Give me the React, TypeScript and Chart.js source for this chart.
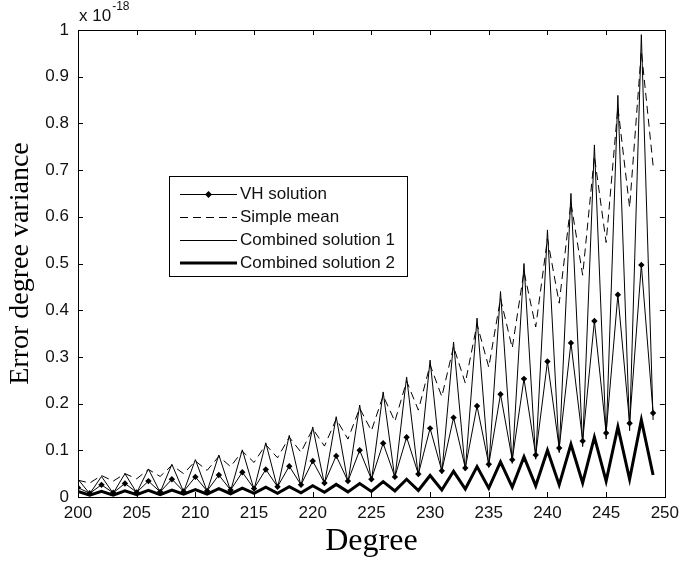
import React, { useEffect, useRef } from "react";
import { Chart, registerables } from "chart.js";

Chart.register(...registerables);

const degrees = [
  200, 201, 202, 203, 204, 205, 206, 207, 208, 209,
  210, 211, 212, 213, 214, 215, 216, 217, 218, 219,
  220, 221, 222, 223, 224, 225, 226, 227, 228, 229,
  230, 231, 232, 233, 234, 235, 236, 237, 238, 239,
  240, 241, 242, 243, 244, 245, 246, 247, 248, 249,
];

const vhSolution = [
  0.020, 0.008, 0.026, 0.009, 0.029, 0.010, 0.034, 0.011, 0.038, 0.012,
  0.043, 0.013, 0.047, 0.015, 0.053, 0.018, 0.059, 0.022, 0.066, 0.026,
  0.077, 0.030, 0.088, 0.034, 0.100, 0.038, 0.115, 0.043, 0.128, 0.049,
  0.147, 0.056, 0.170, 0.062, 0.195, 0.070, 0.220, 0.080, 0.253, 0.090,
  0.290, 0.105, 0.330, 0.120, 0.377, 0.137, 0.433, 0.158, 0.497, 0.180,
];

const simpleMean = [
  0.036, 0.030, 0.046, 0.034, 0.050, 0.039, 0.059, 0.044, 0.068, 0.050,
  0.077, 0.057, 0.087, 0.065, 0.098, 0.074, 0.112, 0.084, 0.128, 0.096,
  0.146, 0.109, 0.167, 0.124, 0.190, 0.142, 0.217, 0.162, 0.248, 0.186,
  0.283, 0.215, 0.322, 0.244, 0.370, 0.278, 0.425, 0.319, 0.483, 0.364,
  0.553, 0.415, 0.630, 0.475, 0.730, 0.545, 0.835, 0.620, 0.955, 0.710,
];

const combined1 = [
  0.038, 0.007, 0.044, 0.008, 0.050, 0.009, 0.060, 0.010, 0.070, 0.011,
  0.080, 0.012, 0.090, 0.013, 0.101, 0.016, 0.116, 0.019, 0.132, 0.023,
  0.150, 0.027, 0.172, 0.030, 0.197, 0.034, 0.225, 0.039, 0.257, 0.044,
  0.293, 0.050, 0.332, 0.056, 0.383, 0.063, 0.440, 0.072, 0.500, 0.081,
  0.572, 0.095, 0.650, 0.108, 0.754, 0.124, 0.860, 0.142, 0.990, 0.165,
];

const combined2 = [
  0.012, 0.004, 0.012, 0.004, 0.013, 0.005, 0.014, 0.005, 0.015, 0.006,
  0.016, 0.006, 0.018, 0.007, 0.019, 0.008, 0.021, 0.008, 0.022, 0.009,
  0.024, 0.010, 0.027, 0.011, 0.029, 0.012, 0.033, 0.013, 0.038, 0.014,
  0.046, 0.015, 0.055, 0.017, 0.065, 0.019, 0.075, 0.021, 0.086, 0.024,
  0.100, 0.026, 0.113, 0.030, 0.128, 0.034, 0.150, 0.038, 0.165, 0.047,
];

const seriesNames = ["VH solution", "Simple mean", "Combined solution 1", "Combined solution 2"];
const xTickValues = [200, 205, 210, 215, 220, 225, 230, 235, 240, 245, 250];
const yTickValues = [0, 0.1, 0.2, 0.3, 0.4, 0.5, 0.6, 0.7, 0.8, 0.9, 1];
const exponentBase = "x 10";
const exponentPower = "-18";
const xTitle = "Degree";
const yTitle = "Error degree variance";

const SANS = "'Liberation Sans', Arial, sans-serif";
const SERIF = "'Liberation Serif', 'Times New Roman', serif";

const toPoints = (ys: number[]) => degrees.map((d, i) => ({ x: d, y: ys[i] }));

const framePlugin = {
  id: "matlabFrame",
  afterDraw(chart: any) {
    const { ctx, chartArea, scales } = chart;
    const { left, right, top, bottom } = chartArea;
    const xs = scales.x;
    const ys = scales.y;
    ctx.save();
    ctx.strokeStyle = "#000";
    ctx.lineWidth = 1;
    ctx.setLineDash([]);
    ctx.strokeRect(Math.round(left) + 0.5, Math.round(top) + 0.5, Math.round(right - left), Math.round(bottom - top));
    const tl = 5;
    ctx.beginPath();
    for (const v of xTickValues) {
      const px = Math.round(xs.getPixelForValue(v)) + 0.5;
      ctx.moveTo(px, bottom);
      ctx.lineTo(px, bottom - tl);
      ctx.moveTo(px, top);
      ctx.lineTo(px, top + tl);
    }
    for (const v of yTickValues) {
      const py = Math.round(ys.getPixelForValue(v)) + 0.5;
      ctx.moveTo(left, py);
      ctx.lineTo(left + tl, py);
      ctx.moveTo(right, py);
      ctx.lineTo(right - tl, py);
    }
    ctx.stroke();

    // exponent label
    ctx.fillStyle = "#111";
    ctx.textBaseline = "alphabetic";
    ctx.textAlign = "left";
    ctx.font = `17px ${SANS}`;
    ctx.fillText(exponentBase, 79, 21);
    const w = ctx.measureText(exponentBase).width;
    ctx.font = `12px ${SANS}`;
    ctx.fillText(exponentPower, 79 + w + 1, 10);

    // legend
    const bx = 169, by = 176, bw = 238, bh = 100;
    ctx.fillStyle = "#fff";
    ctx.fillRect(bx, by, bw, bh);
    ctx.strokeStyle = "#000";
    ctx.lineWidth = 1;
    ctx.strokeRect(bx + 0.5, by + 0.5, bw, bh);
    const rows = [193.5, 216.5, 239.5, 262.5];
    const x0 = 180, x1 = 237;
    ctx.font = `17px ${SANS}`;
    ctx.textBaseline = "middle";
    rows.forEach((ry, i) => {
      ctx.save();
      ctx.strokeStyle = "#000";
      ctx.lineWidth = i === 3 ? 3 : 1;
      ctx.setLineDash(i === 1 ? [8, 5] : []);
      ctx.beginPath();
      ctx.moveTo(x0, Math.round(ry) + (i === 3 ? 0 : 0.5));
      ctx.lineTo(x1, Math.round(ry) + (i === 3 ? 0 : 0.5));
      ctx.stroke();
      if (i === 0) {
        const cx = (x0 + x1) / 2;
        const cy = Math.round(ry) + 0.5;
        ctx.fillStyle = "#000";
        ctx.beginPath();
        ctx.moveTo(cx, cy - 3.5);
        ctx.lineTo(cx + 3.5, cy);
        ctx.lineTo(cx, cy + 3.5);
        ctx.lineTo(cx - 3.5, cy);
        ctx.closePath();
        ctx.fill();
      }
      ctx.restore();
      ctx.fillStyle = "#111";
      ctx.fillText(seriesNames[i], 240, ry + 1);
    });
    ctx.restore();
  },
};

export default function App() {
  const ref = useRef<HTMLCanvasElement | null>(null);

  useEffect(() => {
    if (!ref.current) return;
    const chart = new Chart(ref.current, {
      type: "line",
      data: {
        datasets: [
          {
            label: seriesNames[0],
            data: toPoints(vhSolution),
            borderColor: "#000",
            backgroundColor: "#000",
            borderWidth: 1,
            pointStyle: "rectRot",
            pointRadius: 3.2,
            pointBorderWidth: 0,
            tension: 0,
          },
          {
            label: seriesNames[1],
            data: toPoints(simpleMean),
            borderColor: "#000",
            borderWidth: 1,
            borderDash: [8, 5],
            pointRadius: 0,
            tension: 0,
          },
          {
            label: seriesNames[2],
            data: toPoints(combined1),
            borderColor: "#000",
            borderWidth: 1,
            pointRadius: 0,
            tension: 0,
          },
          {
            label: seriesNames[3],
            data: toPoints(combined2),
            borderColor: "#000",
            borderWidth: 3,
            pointRadius: 0,
            tension: 0,
          },
        ],
      },
      options: {
        responsive: false,
        animation: false,
        events: [],
        layout: { padding: { top: 30, right: 14, left: 0, bottom: 0 } },
        plugins: {
          legend: { display: false },
          tooltip: { enabled: false },
        },
        scales: {
          x: {
            type: "linear",
            min: 200,
            max: 250,
            grid: { display: false, drawTicks: false },
            border: { display: false },
            ticks: {
              stepSize: 5,
              padding: 6,
              color: "#111",
              font: { family: SANS, size: 17 },
              maxRotation: 0,
              autoSkip: false,
            },
            title: {
              display: true,
              text: xTitle,
              color: "#000",
              font: { family: SERIF, size: 32 },
              padding: { top: 0, bottom: 0 },
            },
            afterFit(scale: any) {
              scale.height = 64;
            },
          },
          y: {
            type: "linear",
            min: 0,
            max: 1,
            grid: { display: false, drawTicks: false },
            border: { display: false },
            ticks: {
              stepSize: 0.1,
              padding: 9,
              color: "#111",
              font: { family: SANS, size: 17 },
              callback: (v: any) => String(Number(Number(v).toFixed(1))),
            },
            title: {
              display: true,
              text: yTitle,
              color: "#000",
              font: { family: SERIF, size: 28 },
              padding: { top: 4, bottom: 0 },
            },
            afterFit(scale: any) {
              scale.width = 78;
            },
          },
        },
      },
      plugins: [framePlugin],
    });
    return () => chart.destroy();
  }, []);

  return (
    <div style={{ position: "absolute", left: 0, top: 0, width: 685, height: 561, background: "#fff" }}>
      <canvas ref={ref} width={685} height={561} style={{ display: "block", width: 685, height: 561 }} />
    </div>
  );
}
